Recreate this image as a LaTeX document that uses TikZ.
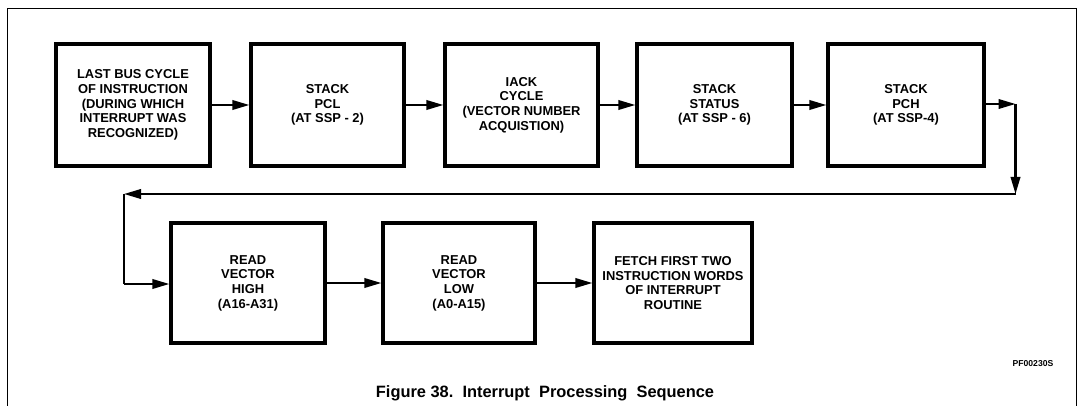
\documentclass[tikz,border=0pt]{standalone}
\usepackage{fontspec}
\setmainfont{Liberation Sans}
\usetikzlibrary{arrows.meta}
\begin{document}
\begin{tikzpicture}[x=1pt,y=-1pt,
  stepbox/.style={draw, line width=3.3pt, inner sep=0pt, align=center,
    font=\bfseries\fontsize{12.9}{14.6}\selectfont},
  flow/.style={line width=2.1pt, -{Triangle[length=17pt,width=9.5pt]}},
  plain/.style={line width=2.1pt}]
\useasboundingbox (0,0) rectangle (1078,406);
% frame
\draw[line width=1.4pt] (7.5,406) -- (7.5,8.5) -- (1076.5,8.5) -- (1076.5,406);
% row 1
\node[stepbox, minimum width=154pt, minimum height=122pt] (b1) at (133,105)
  {LAST BUS CYCLE\\OF INSTRUCTION\\(DURING WHICH\\INTERRUPT WAS\\RECOGNIZED)};
\node[stepbox, minimum width=153pt, minimum height=122pt] (b2) at (327.5,105)
  {STACK\\PCL\\(AT SSP - 2)};
\node[stepbox, minimum width=153pt, minimum height=122pt] (b3) at (521.5,105)
  {IACK\\CYCLE\\(VECTOR NUMBER\\ACQUISTION)};
\node[stepbox, minimum width=155pt, minimum height=122pt] (b4) at (714.5,105)
  {STACK\\STATUS\\(AT SSP - 6)};
\node[stepbox, minimum width=156pt, minimum height=122pt] (b5) at (906,105)
  {STACK\\PCH\\(AT SSP-4)};
% row 2
\node[stepbox, minimum width=154pt, minimum height=120pt] (b6) at (248,283)
  {READ\\VECTOR\\HIGH\\(A16-A31)};
\node[stepbox, minimum width=152pt, minimum height=120pt] (b7) at (459,283)
  {READ\\VECTOR\\LOW\\(A0-A15)};
\node[stepbox, minimum width=158pt, minimum height=120pt] (b8) at (673,283)
  {FETCH FIRST TWO\\INSTRUCTION WORDS\\OF INTERRUPT\\ROUTINE};
% connectors
\coordinate (c1) at (1015.5,104);
\coordinate (c2) at (1015.5,194);
\coordinate (c3) at (124,194);
\coordinate (c4) at (124,284);
\draw[flow] (b1) -- (b2);
\draw[flow] (b2) -- (b3);
\draw[flow] (b3) -- (b4);
\draw[flow] (b4) -- (b5);
\draw[flow] (b5.east |- c1) -- (c1);
\draw[flow] (c1) -- (c2);
\draw[flow] (c2) -- (c3);
\draw[plain] (c3) -- (c4);
\draw[flow] (c4) -- (c4 -| b6.west);
\draw[flow] (b6) -- (b7);
\draw[flow] (b7) -- (b8);
% labels
\node[font=\bfseries\fontsize{8.6}{10}\selectfont, inner sep=0pt] (pf) at (1033,364) {PF00230S};
\node[font=\bfseries\fontsize{16.4}{19}\selectfont, inner sep=0pt, anchor=base] (cap) at (545,397)
  {Figure\ 38.\ \ Interrupt\ \ Processing\ \ Sequence};
\end{tikzpicture}
\end{document}
